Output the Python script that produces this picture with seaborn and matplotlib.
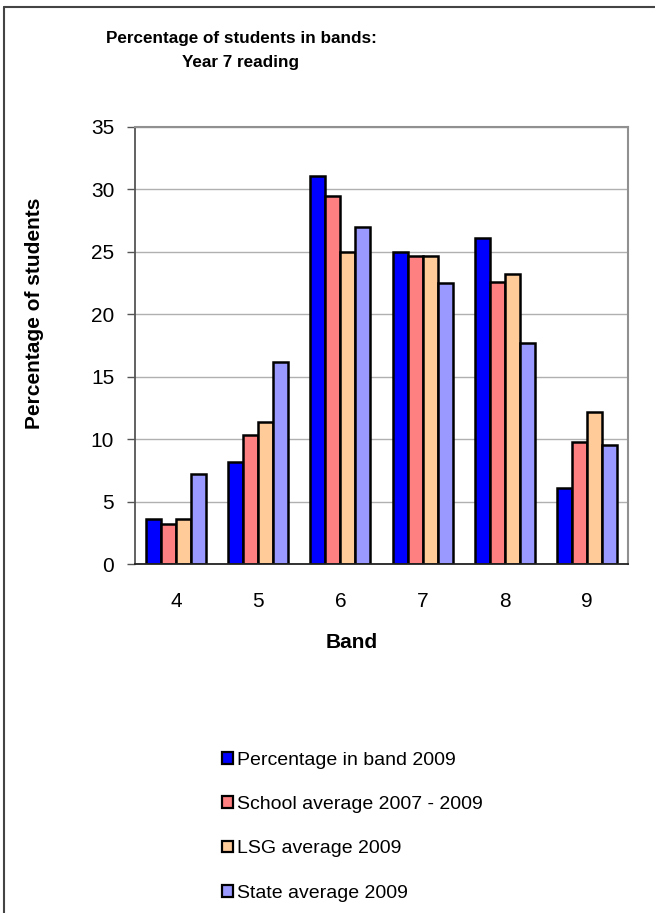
import matplotlib
matplotlib.use("Agg")
import matplotlib.pyplot as plt
import seaborn as sns
import pandas as pd
from matplotlib.patches import Patch
from matplotlib.lines import Line2D

bands = ["4", "5", "6", "7", "8", "9"]
series_names = ["Percentage in band 2009", "School average 2007 - 2009",
                "LSG average 2009", "State average 2009"]
pct_band_2009 = [3.6, 8.2, 31.1, 25.0, 26.1, 6.1]
school_avg = [3.2, 10.3, 29.5, 24.7, 22.6, 9.8]
lsg_avg = [3.6, 11.4, 25.0, 24.7, 23.2, 12.2]
state_avg = [7.2, 16.2, 27.0, 22.5, 17.7, 9.5]
colors = ["#0000FF", "#FF8080", "#FFCC99", "#9999FF"]
yticks = [0, 5, 10, 15, 20, 25, 30, 35]

series_values = [pct_band_2009, school_avg, lsg_avg, state_avg]
rows = []
for name, vals in zip(series_names, series_values):
    for b, v in zip(bands, vals):
        rows.append({"Band": b, "Series": name, "Value": v})
df = pd.DataFrame(rows)

sns.set_style("white")
plt.rcParams["font.family"] = ["Liberation Sans", "DejaVu Sans"]
plt.rcParams["text.color"] = "black"
plt.rcParams["xtick.color"] = "black"
plt.rcParams["ytick.color"] = "black"

W, H = 655, 913
fig = plt.figure(figsize=(W / 100, H / 100), dpi=100)
ax = fig.add_axes([135 / W, 1 - 564 / H, (628 - 135) / W, (564 - 127) / H])

sns.barplot(data=df, x="Band", y="Value", hue="Series", order=bands,
            hue_order=series_names, palette=colors, width=0.73,
            edgecolor="black", linewidth=1.8, saturation=1, ax=ax,
            legend=False, errorbar=None)

ax.set_ylim(0, 35)
ax.set_xlim(-0.5, 5.5)
ax.set_yticks(yticks)
ax.set_yticklabels([str(t) for t in yticks], fontsize=15)
ax.yaxis.grid(True, color="#b0b0b0", linewidth=1)
ax.set_axisbelow(True)
ax.set_xlabel("")
ax.set_ylabel("")

ax.tick_params(axis="x", which="major", length=0, labelsize=15, pad=20,
               labelcolor="black")
ax.set_xticks([i - 0.5 for i in range(1, 6)], minor=True)
ax.tick_params(axis="x", which="minor", length=5, width=1, color="#333333")
ax.tick_params(axis="y", which="major", length=6, width=1, color="#555555",
               labelsize=15, pad=9, left=True, labelcolor="black")

for side in ["top", "right"]:
    ax.spines[side].set_visible(True)
    ax.spines[side].set_color("#909090")
    ax.spines[side].set_linewidth(1.5)
ax.spines["left"].set_color("#555555")
ax.spines["left"].set_linewidth(1.3)
ax.spines["bottom"].set_color("#222222")
ax.spines["bottom"].set_linewidth(1.3)

fig.text(241 / W, 1 - 38 / H, "Percentage of students in bands:",
         ha="center", va="center", fontsize=12.3, fontweight="bold")
fig.text(241 / W, 1 - 63 / H, "Year 7 reading",
         ha="center", va="center", fontsize=12.3, fontweight="bold")
fig.text(35 / W, 1 - 313 / H, "Percentage of students", rotation=90,
         ha="center", va="center", fontsize=15, fontweight="bold")
fig.text(352 / W, 1 - 642 / H, "Band", ha="center", va="center",
         fontsize=15, fontweight="bold")

handles = [Patch(facecolor=c, edgecolor="black", linewidth=1.6) for c in colors]
fig.legend(handles, series_names, loc="upper left",
           bbox_to_anchor=(222 / W, 1 - 752 / H), frameon=False,
           fontsize=14, handlelength=0.55, handleheight=0.55,
           handletextpad=0.2, labelspacing=1.4, borderaxespad=0, borderpad=0)

# outer frame (left and top edges visible)
fig.add_artist(Line2D([4 / W, 4 / W], [0, 1 - 7 / H], transform=fig.transFigure,
                      color="#444444", linewidth=1.5))
fig.add_artist(Line2D([4 / W, 1], [1 - 7 / H, 1 - 7 / H], transform=fig.transFigure,
                      color="#444444", linewidth=1.5))

fig.savefig("out.png", dpi=100, facecolor="white")
